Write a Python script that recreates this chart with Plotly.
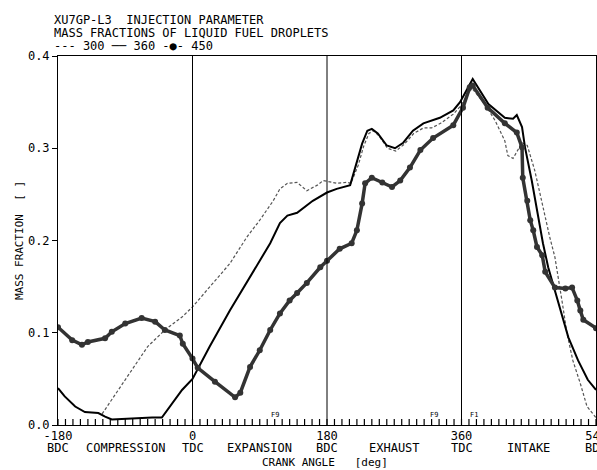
import plotly.graph_objects as go

# Crank angle [deg] and mass fraction [-] for each injection timing
x300 = [-121, -104, -81, -60, -37, -14, 0, 27, 50, 73, 90, 108, 117, 127, 140, 153, 167, 175, 193, 207,
        212, 222, 229, 236, 242, 250, 261, 272, 283, 296, 309, 320, 332, 349, 359, 371, 375,
        391, 405, 418, 422, 429, 434, 441, 448, 458, 465, 472, 478, 485, 489, 495, 501, 509, 519, 528, 540]
y300 = [0.012, 0.032, 0.060, 0.085, 0.103, 0.117, 0.128, 0.154, 0.175, 0.204, 0.222, 0.243, 0.256, 0.262, 0.263, 0.254, 0.260, 0.265, 0.262, 0.263,
        0.262, 0.282, 0.302, 0.316, 0.319, 0.313, 0.300, 0.297, 0.304, 0.316, 0.322, 0.322, 0.327, 0.337, 0.346, 0.362, 0.364,
        0.348, 0.330, 0.308, 0.292, 0.289, 0.296, 0.306, 0.303, 0.276, 0.251, 0.225, 0.204, 0.182, 0.160, 0.132, 0.100, 0.070, 0.045, 0.020, 0.008]

x360 = [-180, -171, -157, -144, -126, -117, -108, -68, -54, -41, -27, -14, 0, 23, 50, 77, 104, 117, 127, 140, 161, 180, 193,
        211, 220, 227, 234, 240, 248, 260, 271, 282, 295, 309, 331, 349, 358, 371, 375,
        396, 418, 429, 434, 441, 445, 454, 462, 469, 476, 485, 495, 503, 516, 529, 540]
y360 = [0.040, 0.031, 0.020, 0.014, 0.013, 0.009, 0.006, 0.008, 0.008, 0.008, 0.024, 0.038, 0.050, 0.085, 0.124, 0.160, 0.197, 0.219, 0.227, 0.230, 0.243, 0.252, 0.256,
        0.260, 0.284, 0.305, 0.319, 0.321, 0.316, 0.303, 0.300, 0.306, 0.319, 0.327, 0.333, 0.341, 0.350, 0.370, 0.375,
        0.348, 0.333, 0.332, 0.336, 0.323, 0.301, 0.265, 0.229, 0.197, 0.171, 0.146, 0.117, 0.095, 0.070, 0.049, 0.038]

x450 = [-180, -161, -148, -140, -117, -108, -90, -68, -50, -37, -17, -13, 0, 7, 30, 57, 64,
        77, 90, 104, 117, 130, 140, 153, 171, 180, 197, 213, 220, 227, 231, 240, 254, 267, 278, 291, 305, 322, 349, 362, 371, 375,
        395, 418, 434, 441, 442, 448, 452, 456, 461, 468, 472, 485, 499, 508, 515, 519, 523, 540]
y450 = [0.106, 0.092, 0.087, 0.090, 0.094, 0.101, 0.110, 0.116, 0.112, 0.103, 0.097, 0.088, 0.072, 0.062, 0.047, 0.030, 0.035,
        0.063, 0.081, 0.103, 0.121, 0.135, 0.143, 0.154, 0.171, 0.178, 0.191, 0.197, 0.211, 0.240, 0.262, 0.268, 0.263, 0.258, 0.265, 0.279, 0.298, 0.311, 0.325, 0.344, 0.366, 0.368,
        0.344, 0.327, 0.317, 0.301, 0.268, 0.243, 0.222, 0.211, 0.193, 0.184, 0.166, 0.149, 0.148, 0.149, 0.135, 0.124, 0.114, 0.105]

major_vals = [-180, 0, 180, 360, 540]
major_nums = ["-180", "0", "180", "360", "540"]
major_names = ["BDC", "TDC", "BDC", "TDC", "BDC"]
minor_vals = list(range(-180, 541, 10))
phase_x = [-90, 90, 270, 450]
phase_names = ["COMPRESSION", "EXPANSION", "EXHAUST", "INTAKE"]
marker_x = [110, 323, 377]
marker_text = ["F9", "F9", "F1"]
y_ticks = [0.0, 0.1, 0.2, 0.3, 0.4]
y_text = ["0.0", "0.1", "0.2", "0.3", "0.4"]
title_lines = ["XU7GP-L3  INJECTION PARAMETER", "MASS FRACTIONS OF LIQUID FUEL DROPLETS"]
legend_line = "--- 300 ── 360 -●- 450"

FONT = "DejaVu Sans Mono"
PLOT_H = 369  # plot area height in px (470-56-45)

fig = go.Figure()
fig.add_trace(go.Scatter(x=x300, y=y300, mode="lines", name="300",
                         line=dict(color="#555555", width=1.2, dash="3px,2px")))
fig.add_trace(go.Scatter(x=x360, y=y360, mode="lines", name="360",
                         line=dict(color="black", width=2)))
fig.add_trace(go.Scatter(x=x450, y=y450, mode="lines+markers", name="450",
                         line=dict(color="#333333", width=3.5),
                         marker=dict(symbol="circle", size=6, color="#333333")))

# phase boundaries (TDC / BDC)
for xv in major_vals[1:-1]:
    fig.add_shape(type="line", xref="x", yref="paper", x0=xv, x1=xv, y0=0, y1=1,
                  line=dict(color="black", width=1))
# small inward ticks every 10 deg along the crank-angle axis
for xv in minor_vals:
    fig.add_shape(type="line", xref="x", yref="paper", x0=xv, x1=xv, y0=0, y1=6 / PLOT_H,
                  line=dict(color="black", width=1.2))

for xv, name in zip(phase_x + major_vals, phase_names + major_names):
    fig.add_annotation(x=xv, y=0, xref="x", yref="y", yshift=-23, text=name,
                       showarrow=False, yanchor="middle",
                       font=dict(family=FONT, size=12, color="black"))

for xv, t in zip(marker_x, marker_text):
    fig.add_annotation(x=xv, y=0, xref="x", yref="y", yshift=10, text=t,
                       showarrow=False, yanchor="middle",
                       font=dict(family=FONT, size=7, color="black"))

fig.add_annotation(x=0.496, y=0, xref="paper", yref="paper", yshift=-37,
                   text="CRANK ANGLE   [deg]", showarrow=False, yanchor="middle",
                   font=dict(family=FONT, size=11, color="black"))
for i, line in enumerate(title_lines):
    fig.add_annotation(x=0, y=1, xref="paper", yref="paper", xshift=-6, yshift=36 - 13 * i,
                       xanchor="left", yanchor="middle", showarrow=False, text=line,
                       font=dict(family=FONT, size=12, color="black"))
fig.add_annotation(x=0, y=1, xref="paper", yref="paper", xshift=-6, yshift=10,
                   xanchor="left", yanchor="middle", showarrow=False, text=legend_line,
                   font=dict(family=FONT, size=12, color="black"))

fig.update_layout(
    template="none",
    width=597, height=470,
    margin=dict(l=58, r=1, t=56, b=45),
    paper_bgcolor="white", plot_bgcolor="white",
    font=dict(family=FONT, size=12, color="black"),
    showlegend=False,
    xaxis=dict(range=[-180, 540], tickmode="array", tickvals=major_vals, ticktext=major_nums,
               showline=True, linecolor="black", linewidth=1, mirror=True,
               showgrid=False, ticks="", ticklabeloverflow="allow",
               zeroline=False, tickfont=dict(family=FONT, size=12)),
    yaxis=dict(range=[0, 0.4], tickmode="array", tickvals=y_ticks, ticktext=y_text,
               showline=True, linecolor="black", linewidth=1, mirror=True,
               showgrid=False, zeroline=False, ticks="outside", ticklen=5, tickwidth=1.2,
               tickcolor="black",
               title=dict(text="MASS FRACTION  [ ]", standoff=2, font=dict(family=FONT, size=11)),
               tickfont=dict(family=FONT, size=12)),
)

fig.write_html("out.html")
